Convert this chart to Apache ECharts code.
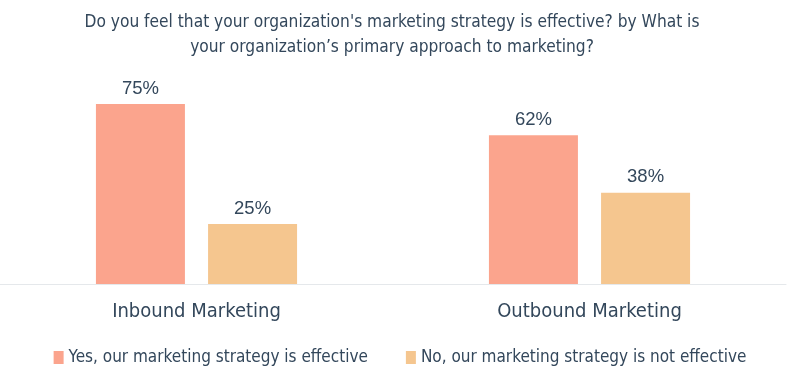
<!DOCTYPE html>
<html><head><meta charset="utf-8">
<script src="https://cdn.jsdelivr.net/npm/echarts@6/dist/echarts.min.js"></script>
<style>html,body{margin:0;padding:0;background:#fff}#c{width:800px;height:371px}</style>
</head><body><div id="c"></div>
<script>
const titleText = "Do you feel that your organization's marketing strategy is effective? by What is\nyour organization\u2019s primary approach to marketing?";
const categories = ["Inbound Marketing", "Outbound Marketing"];
const seriesNames = ["Yes, our marketing strategy is effective", "No, our marketing strategy is not effective"];
const yesValues = [75, 62];
const noValues = [25, 38];
const colors = ["#fba48d", "#f5c68f"];
const condensed = "'DejaVu Sans Condensed', sans-serif";
const chart = echarts.init(document.getElementById('c'));
chart.setOption({
  animation: false,
  color: colors,
  title: {
    text: titleText, left: 387, top: 5, textAlign: 'center',
    textStyle: {fontFamily: condensed, fontSize: 17.2, fontWeight: 'normal', color: '#33475b', lineHeight: 25}
  },
  legend: {
    bottom: 0, left: 'center', itemWidth: 10, itemHeight: 13, itemGap: 38, icon: 'rect',
    textStyle: {fontFamily: condensed, fontSize: 17, color: '#33475b'},
    data: seriesNames
  },
  grid: {left: 0, right: 14, top: 44, bottom: 87, containLabel: false},
  xAxis: {
    type: 'category', data: categories,
    axisLine: {lineStyle: {color: '#e5e8eb', width: 1}},
    axisTick: {show: false},
    axisLabel: {fontFamily: condensed, fontSize: 20, color: '#33475b', margin: 18}
  },
  yAxis: {type: 'value', min: 0, max: 100, show: false, splitLine: {show: false}},
  series: [
    {name: seriesNames[0], type: 'bar', data: yesValues, barWidth: 89, barGap: '26%',
     label: {show: true, position: 'top', formatter: '{c}%', fontFamily: 'Liberation Sans, Arial, sans-serif', fontSize: 18.5, fontWeight: 500, color: '#33475b', distance: 6}},
    {name: seriesNames[1], type: 'bar', data: noValues, barWidth: 89,
     label: {show: true, position: 'top', formatter: '{c}%', fontFamily: 'Liberation Sans, Arial, sans-serif', fontSize: 18.5, fontWeight: 500, color: '#33475b', distance: 6}}
  ]
});
</script></body></html>
